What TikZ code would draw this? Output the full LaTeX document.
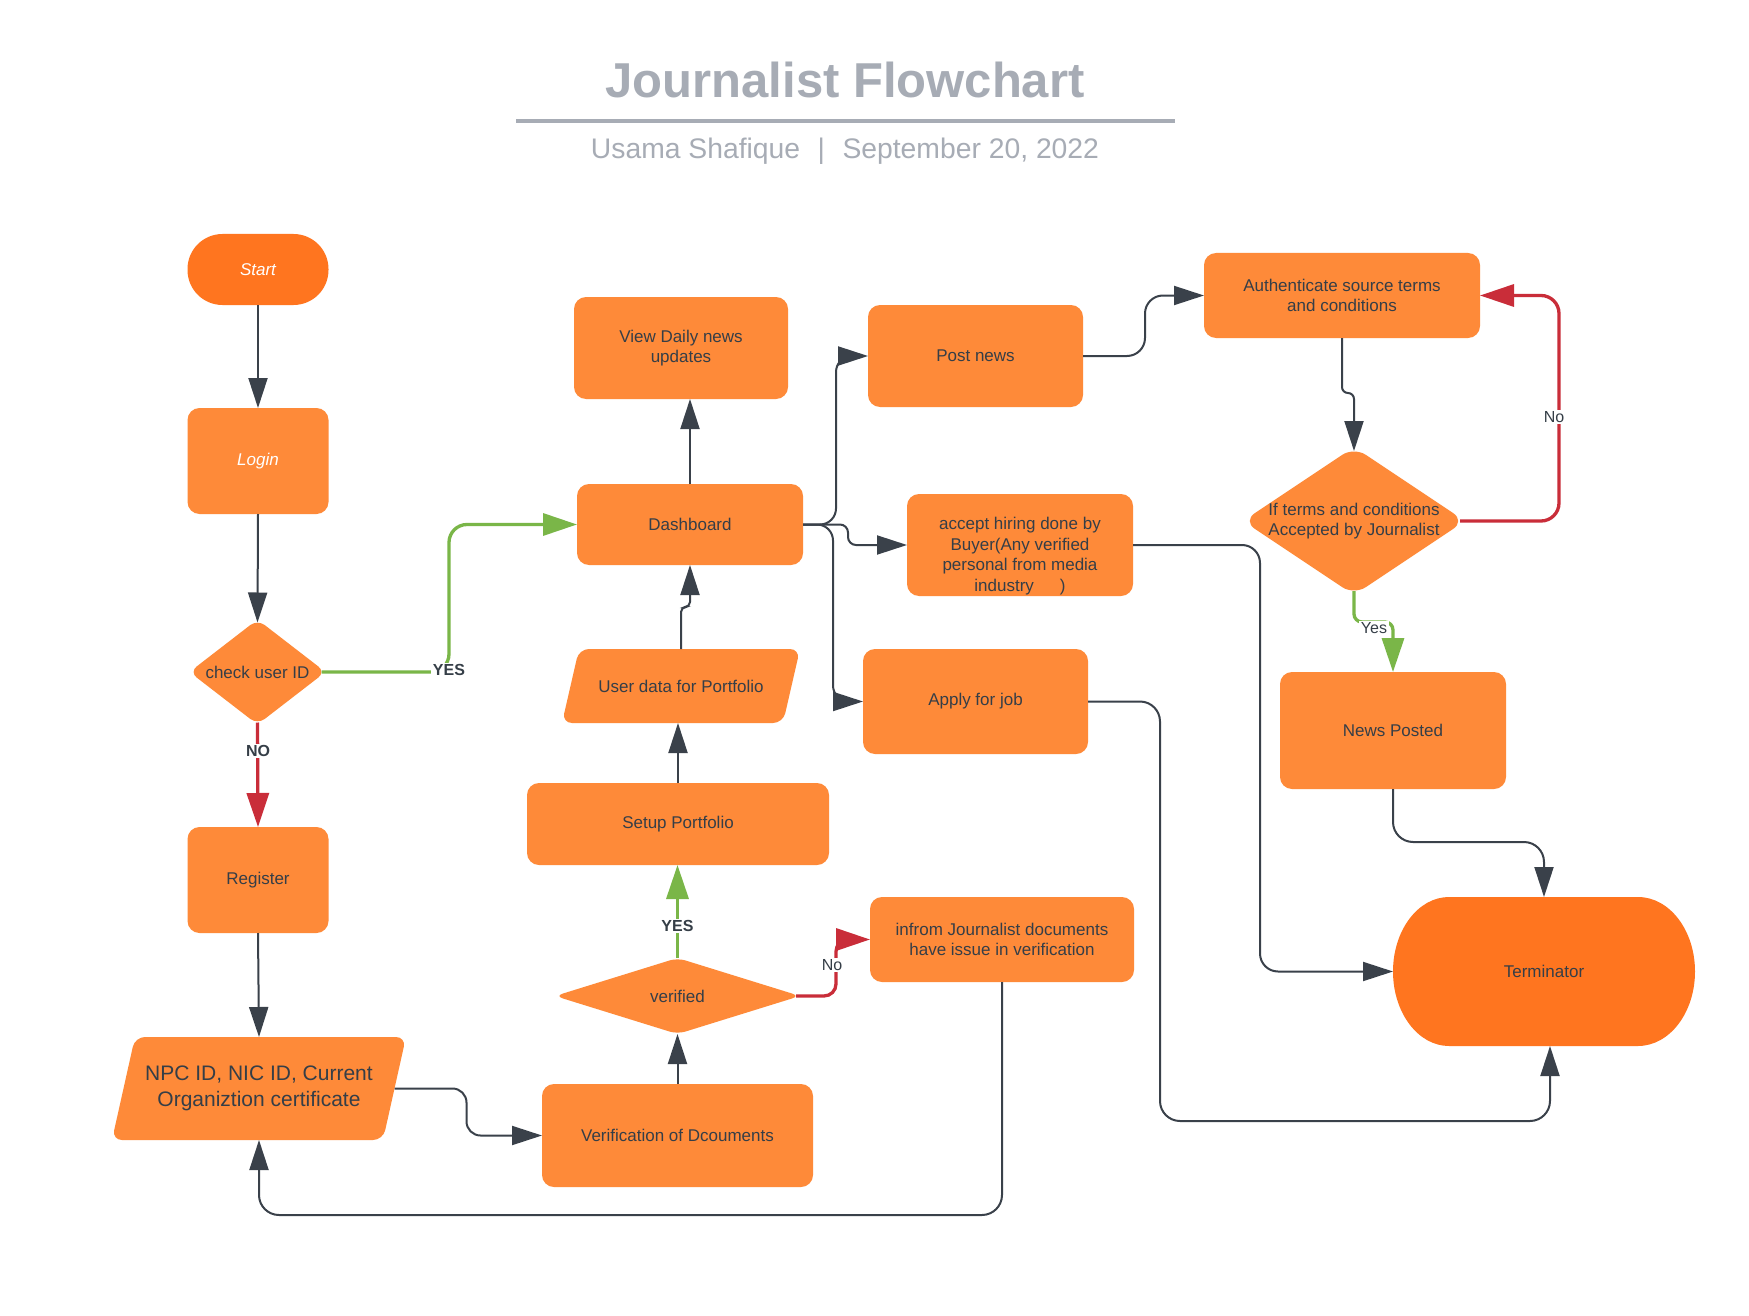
\documentclass[tikz,border=0pt]{standalone}
\usepackage{fontspec}
\setmainfont{Liberation Sans}
\usetikzlibrary{arrows.meta,shapes.geometric,calc}
\definecolor{boxc}{HTML}{FE8A39}
\definecolor{termc}{HTML}{FF751F}
\definecolor{txtc}{HTML}{353E47}
\definecolor{linec}{HTML}{3A414A}
\definecolor{redc}{HTML}{C92D39}
\definecolor{greenc}{HTML}{7AB648}
\definecolor{titc}{HTML}{A7ACB5}
\newcommand{\mainfs}{\fontsize{17}{20.5}\selectfont}
\begin{document}
\begin{tikzpicture}[x=1pt,y=-1pt,
  obox/.style={rectangle, rounded corners=12pt, fill=boxc, inner sep=0pt, outer sep=0pt, align=center, text=txtc, font=\mainfs},
  odia/.style={diamond, fill=boxc, inner sep=0pt, outer sep=0pt},
  otxt/.style={align=center, text=txtc, font=\mainfs, inner sep=0pt},
  textbox/.style={rectangle, inner sep=0pt, outer sep=0pt, align=center, text=txtc, font=\mainfs},
  oconn/.style={draw=linec, line width=2pt, -{Triangle[length=30pt,width=19pt]}},
  yesline/.style={draw=greenc, line width=3.3pt, -{Triangle[length=34pt,width=22pt]}},
  noline/.style={draw=redc, line width=3.3pt, -{Triangle[length=34pt,width=22pt]}},
  lbl/.style={fill=white, inner sep=1.5pt, text=txtc, font=\fontsize{16}{19}\selectfont},
  lblb/.style={lbl, font=\fontsize{16}{19}\selectfont\bfseries},
]
\useasboundingbox (0,0) rectangle (1749,1316);
\fill[white] (0,0) rectangle (1749,1316);

% title
\node[anchor=base, text=titc, font=\fontsize{49}{58}\selectfont\bfseries, inner sep=0pt] (title) at (845,98) {Journalist Flowchart};
\coordinate (tl) at (516,121);
\coordinate (tr) at (1175,121);
\draw[titc, line width=3.3pt] (tl) -- (tr);
\node[anchor=base, text=titc, font=\fontsize{28.3}{34}\selectfont, inner sep=0pt] (sub) at (845,159) {Usama Shafique\hspace{17.5pt}|\hspace{17.5pt}September 20, 2022};

% left column
\node[obox, fill=termc, rounded corners=35pt, minimum width=141pt, minimum height=71pt, text=white, font=\mainfs\itshape] (start) at (258,269.5) {Start};
\node[obox, minimum width=141pt, minimum height=106pt, text=white, font=\mainfs\itshape] (login) at (258,461) {Login};
\node[odia, rounded corners=9pt, minimum width=136pt, minimum height=105pt] (chk) at (257.5,672) {};
\node[otxt] (chkt) at (chk.center) {check user ID};
\node[obox, minimum width=141pt, minimum height=106pt] (reg) at (258,880) {Register};
\fill[boxc, rounded corners=10pt] (135,1037) -- (406,1037) -- (383,1140) -- (112,1140) -- cycle;
\node[textbox, minimum width=271pt, minimum height=103pt, font=\fontsize{21}{25.5}\selectfont] (npc) at (259,1088.5) {NPC ID, NIC ID, Current\\Organiztion certificate};

% middle column
\node[obox, minimum width=271pt, minimum height=103pt] (ver) at (677.5,1135.5) {Verification of Dcouments};
\node[odia, rounded corners=8pt, minimum width=245pt, minimum height=76pt] (vfd) at (677.5,996) {};
\node[otxt] (vfdt) at (vfd.center) {verified};
\node[obox, minimum width=302pt, minimum height=82pt] (setup) at (678,824) {Setup Portfolio};
\fill[boxc, rounded corners=10pt] (579,649) -- (800,649) -- (783,723) -- (562,723) -- cycle;
\node[textbox, minimum width=221pt, minimum height=74pt] (ud) at (681,686) {User data for Portfolio};
\node[obox, minimum width=226pt, minimum height=81pt] (dash) at (690,524.5) {Dashboard};
\node[obox, minimum width=214pt, minimum height=102pt] (view) at (681,348) {View Daily news\\updates};

% right-middle column
\node[obox, minimum width=215pt, minimum height=102pt] (post) at (975.5,356) {Post news};
\node[obox, minimum width=226pt, minimum height=102pt] (acc) at (1020,545) {};
\node[otxt] (acct) at (1020,556) {accept hiring done by\\Buyer(Any verified\\personal from media\\industry\hspace{26pt})};
\node[obox, minimum width=225pt, minimum height=105pt] (apply) at (975.5,701.5) {Apply for job};
\node[obox, minimum width=264pt, minimum height=85pt] (inf) at (1002,939.5) {infrom Journalist documents\\have issue in verification};

% right column
\node[obox, minimum width=276pt, minimum height=85pt] (auth) at (1342,295.5) {Authenticate source terms\\and conditions};
\node[odia, rounded corners=14pt, minimum width=222pt, minimum height=148pt] (terms) at (1354,521) {};
\node[otxt] (termst) at (terms.center) {If terms and conditions\\Accepted by Journalist};
\node[obox, minimum width=226pt, minimum height=117pt] (news) at (1393,730.5) {News Posted};
\fill[termc] (1449,897) -- (1638,897)
  .. controls (1669.5,897) and (1695,930.35) .. (1695,971.5)
  .. controls (1695,1012.65) and (1669.5,1046) .. (1638,1046)
  -- (1449,1046)
  .. controls (1418.1,1046) and (1393,1012.65) .. (1393,971.5)
  .. controls (1393,930.35) and (1418.1,897) .. (1449,897) -- cycle;
\node[textbox, minimum width=302pt, minimum height=149pt] (term) at (1544,971.5) {Terminator};

% connectors
\draw[oconn] (start.south) -- (login.north);
\draw[oconn] (login.south) -- ([yshift=-3pt]chk.north);
\draw[yesline, rounded corners=18pt] ([xshift=-4pt]chk.east) -| ($(dash.west)+(-128,0)$) -- (dash.west);
\node[lblb] (yes1) at (449,670) {YES};
\draw[noline] ([yshift=2pt]chk.south) -- (reg.north);
\node[lblb] (no1) at (258,751) {NO};
\draw[oconn] (reg.south) -- (npc.north);
\draw[oconn, rounded corners=14pt] (npc.east) -- ++(72,0) |- (ver.west);
\draw[oconn] (ver.north) -- (vfd.south);
\draw[yesline] (vfd.north) -- (vfd.north |- setup.south);
\node[lblb] (yes2) at (677.5,926) {YES};
\draw[noline, rounded corners=12pt] ([xshift=-4pt]vfd.east) -- ++(40,0) |- (inf.west);
\node[lbl] (no2) at (832,965) {No};
\draw[oconn, rounded corners=20pt] (inf.south) -- ++(0,233) -| (npc.south);
\draw[oconn] (setup.north) -- (setup.north |- ud.south);
\draw[oconn, rounded corners=5pt] (ud.north) -- ++(0,-42) -| (dash.south);
\draw[oconn] (dash.north) -- (dash.north |- view.south);
\draw[oconn, rounded corners=16pt] (dash.east) -- ++(33,0) |- (post.west);
\draw[oconn, rounded corners=8pt] (dash.east) -- ++(45,0) |- (acc.west);
\draw[oconn, rounded corners=16pt] (dash.east) -- ++(30,0) |- (apply.west);
\draw[oconn, rounded corners=18pt] (post.east) -- ++(62,0) |- (auth.west);
\draw[oconn, rounded corners=6pt] (auth.south) -- ++(0,55) -| ([yshift=-4pt]terms.north);
\draw[noline, rounded corners=18pt] ([xshift=-5pt]terms.east) -- ++(99,0) |- (auth.east);
\node[lbl] (no3) at (1554,417) {No};
\draw[yesline, rounded corners=8pt] ([yshift=4pt]terms.south) -- ++(0,31) -| (news.north);
\node[lbl] (yes3) at (1374,628) {Yes};
\draw[oconn, rounded corners=20pt] (news.south) -- ++(0,53) -| (term.north);
\draw[oconn, rounded corners=18pt] (acc.east) -- ++(127,0) |- (term.west);
\draw[oconn, rounded corners=20pt] (apply.east) -- ++(72,0) -- ++(0,419.5) -| ([xshift=6pt]term.south);
\end{tikzpicture}
\end{document}
